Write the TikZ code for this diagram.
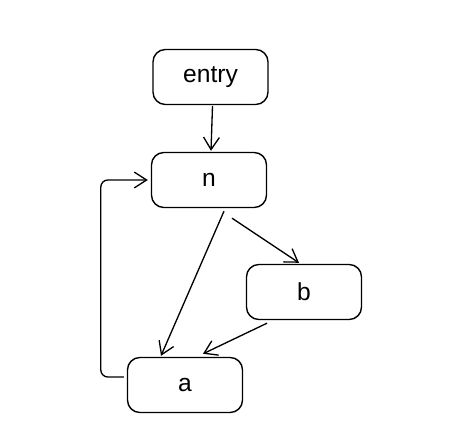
\documentclass[tikz,border=0pt]{standalone}
\usepackage{fontspec}
\setmainfont{Liberation Sans}
\usetikzlibrary{arrows.meta}

\begin{document}
\begin{tikzpicture}[x=0.02cm, y=-0.02cm,
    blockbox/.style={draw, line width=0.8pt, rounded corners=7pt,
        minimum width=2.3cm, minimum height=1.1cm,
        font=\fontsize{14}{16}\selectfont},
    flow/.style={line width=0.75pt, -{Straight Barb[length=7pt, width=9pt]}}]
    \useasboundingbox (0,0) rectangle (467,439);

    \node[blockbox] (entry) at (210.5,77) {entry};
    \node[blockbox] (n) at (209,180) {n};
    \node[blockbox] (b) at (304,292) {b};
    \node[blockbox] (a) at (185,385) {a};

    \draw[flow] ([shift={(2,1)}]entry.south) -- ([shift={(2,-1)}]n.north);
    \draw[flow] ([shift={(15,3)}]n.south) -- ([shift={(-24,-1)}]a.north);
    \draw[flow] ([shift={(23,10)}]n.south) -- ([shift={(-5,-1)}]b.north);
    \draw[flow] ([shift={(-37,3)}]b.south) -- ([shift={(18,-3)}]a.north);
    % back edge from a to n
    \draw[flow, rounded corners=4pt] ([shift={(-3,-8)}]a.west) -- ++(-23,0)
        |- ([shift={(-3,0)}]n.west);
\end{tikzpicture}
\end{document}
